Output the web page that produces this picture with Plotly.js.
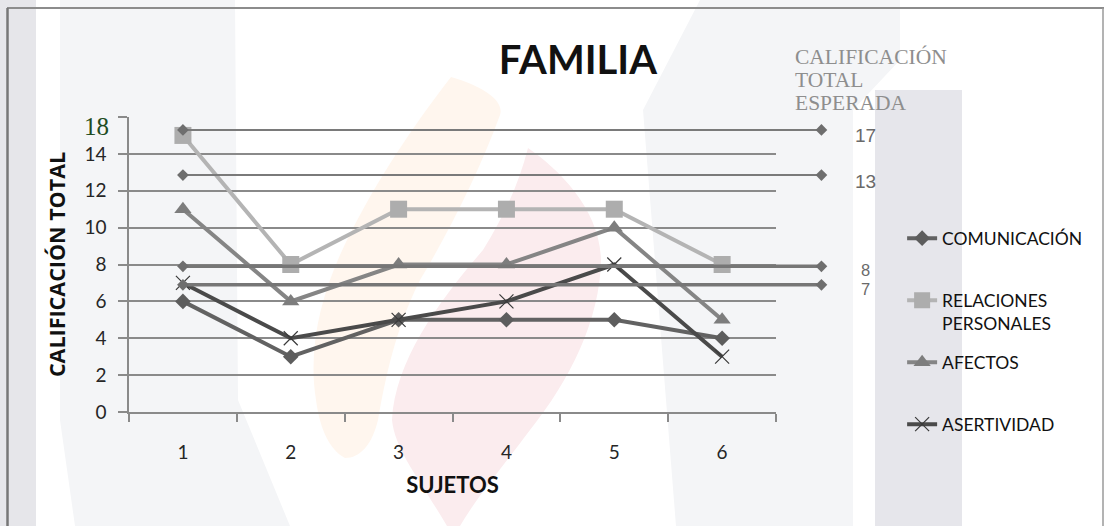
<!DOCTYPE html>
<html>
<head>
<meta charset="utf-8">
<script src="https://cdn.plot.ly/plotly-3.0.1.min.js"></script>
<style>
html, body { margin: 0; padding: 0; background: #fff; }
#familia { width: 1105px; height: 526px; }
</style>
</head>
<body>
<div id="familia"></div>
<script>
var sujetos = [1, 2, 3, 4, 5, 6];
var comunicacion = [6, 3, 5, 5, 5, 4];
var relaciones = [15, 8, 11, 11, 11, 8];
var afectos = [11, 6, 8, 8, 10, 5];
var asertividad = [7, 4, 5, 6, 8, 3];

// calificacion total esperada: nivel donde esta dibujada la linea y su etiqueta
var esperadaNivel = [15.3, 12.85, 7.9, 6.9];
var esperadaTexto = ['17', '13', '8', '7'];
var esperadaX = [1, 6.92];

var yTicks = [0, 2, 4, 6, 8, 10, 12, 14, 16];
var yTickText = ['0', '2', '4', '6', '8', '10', '12', '14', ''];

// marca de agua del fondo
var fondo = '<svg xmlns="http://www.w3.org/2000/svg" width="1105" height="526" viewBox="0 0 1105 526">' +
    '<rect width="1105" height="526" fill="#ffffff"/>' +
    '<rect x="0" y="0" width="36" height="526" fill="#e6e6ea"/>' +
    '<path d="M60 0 L235 0 L238 400 L290 526 L75 526 L60 420 Z" fill="#f4f5f7"/>' +
    '<path d="M700 0 L900 0 L900 60 L853 110 L853 526 L676 526 L643 110 Z" fill="#f4f5f7"/>' +
    '<rect x="875" y="90" width="87" height="436" fill="#e6e6eb"/>' +
    '<path d="M451 77 C480 85 505 100 500 115 C480 170 450 230 420 280 C395 330 385 380 378 420 C372 445 360 458 345 458 C330 450 320 430 316 400 C308 350 320 300 340 255 C370 190 410 130 451 77 Z" fill="#fff6ee"/>' +
    '<path d="M528 148 C560 170 600 210 601 260 C600 320 570 380 530 430 C500 470 475 500 460 526 L447 526 C420 480 395 450 392 420 C395 360 440 300 483 250 C505 215 520 180 528 148 Z" fill="#fbecee"/>' +
    '<line x1="7" y1="8" x2="1104" y2="8" stroke="#8c8c8c" stroke-width="2"/>' +
    '<line x1="7.5" y1="8" x2="7.5" y2="526" stroke="#777777" stroke-width="2.5"/>' +
    '<line x1="1103" y1="8" x2="1103" y2="526" stroke="#9a9a9a" stroke-width="1.5"/>' +
    '</svg>';

var ejeFuente = {family: 'Lato, sans-serif', size: 19, color: '#262626'};

function serie(y, nombre, color, marca) {
    return {
        x: sujetos,
        y: y,
        name: nombre,
        type: 'scatter',
        mode: 'lines+markers',
        line: {color: color, width: 4},
        marker: marca,
        cliponaxis: false,
        legendgroup: nombre
    };
}

var data = [
    serie(comunicacion, 'COMUNICACIÓN<br> ', '#626262', {symbol: 'diamond', size: 12, color: '#5d5d5d'}),
    serie(relaciones, 'RELACIONES<br>PERSONALES', '#b4b4b4', {symbol: 'square', size: 17, color: '#adadad'}),
    serie(afectos, 'AFECTOS<br> ', '#858585', {symbol: 'triangle-up', size: 15, color: '#7d7d7d'}),
    serie(asertividad, 'ASERTIVIDAD<br> ', '#4a4a4a', {symbol: 'x-thin', size: 14, line: {width: 1.2, color: '#3a3a3a'}})
];

var annotations = [
    {xref: 'paper', yref: 'y', x: -0.024, y: 16, yshift: -9, xanchor: 'right', showarrow: false,
     text: '18', font: {family: 'Liberation Serif, serif', size: 25, color: '#1f4d23'}}
];

var tituloEsperada = ['CALIFICACIÓN', 'TOTAL', 'ESPERADA'];
tituloEsperada.forEach(function (t, i) {
    annotations.push({
        xref: 'paper', yref: 'paper', x: 0.88, y: (412 - 57 - 23 * i) / 295,
        xanchor: 'left', yanchor: 'middle', showarrow: false, text: t,
        font: {family: 'Liberation Serif, serif', size: 21.5, color: '#8e8e8e'}
    });
});

esperadaNivel.forEach(function (v, i) {
    data.push({
        x: esperadaX,
        y: [v, v],
        xaxis: 'x2',
        yaxis: 'y2',
        type: 'scatter',
        mode: 'lines+markers',
        showlegend: false,
        hoverinfo: 'skip',
        cliponaxis: false,
        line: {color: i < 2 ? '#7a7a7a' : '#767676', width: i < 2 ? 2 : 3.5},
        marker: {symbol: 'diamond', size: 9, color: '#6e6e6e'}
    });
    annotations.push({
        xref: 'x2', yref: 'y2', x: 7.33, y: v, yshift: i < 2 ? -6 : -4, showarrow: false,
        text: esperadaTexto[i],
        font: {family: 'Liberation Sans, sans-serif', size: i < 2 ? 19 : 16.5, color: '#6a6a6a'}
    });
});

var layout = {
    width: 1105,
    height: 526,
    margin: {l: 129, r: 221, t: 117, b: 114},
    paper_bgcolor: '#ffffff',
    plot_bgcolor: 'rgba(0,0,0,0)',
    title: {
        text: '<b>FAMILIA</b>',
        font: {family: 'Lato, sans-serif', size: 40, color: '#111111'},
        xref: 'container', yref: 'container',
        x: 0.523, xanchor: 'center', y: 0.886, yanchor: 'middle'
    },
    xaxis: {
        domain: [0, 0.857],
        range: [0.5, 6.5],
        tickvals: sujetos,
        ticks: '',
        tickfont: ejeFuente,
        ticklabelstandoff: 22,
        showgrid: false,
        zeroline: false,
        showline: true,
        linecolor: '#8a8a8a',
        linewidth: 1.5,
        minor: {tick0: 0.5, dtick: 1, ticks: 'outside', ticklen: 8, tickcolor: '#8a8a8a', tickwidth: 1.5, showgrid: false},
        title: {text: '<b>SUJETOS</b>', font: {family: 'Lato, sans-serif', size: 22, color: '#111111'}, standoff: 16}
    },
    yaxis: {
        range: [0, 16],
        tickvals: yTicks,
        ticktext: yTickText,
        ticks: 'outside',
        ticklen: 9,
        tickcolor: '#8a8a8a',
        tickwidth: 1.5,
        tickfont: ejeFuente,
        ticklabelstandoff: 8,
        showgrid: true,
        gridcolor: '#8a8a8a',
        gridwidth: 1.5,
        zeroline: false,
        showline: true,
        linecolor: '#8a8a8a',
        linewidth: 1.5,
        title: {text: '<b>CALIFICACIÓN TOTAL</b>', font: {family: 'Open Sans, sans-serif', size: 21.5, color: '#111111'}, standoff: 13}
    },
    xaxis2: {domain: [0, 1], range: [0.5, 7.5], anchor: 'y2', visible: false},
    yaxis2: {domain: [0, 1], range: [0, 16], anchor: 'x2', visible: false},
    showlegend: true,
    legend: {
        x: 1.024, xanchor: 'left',
        y: 0.65, yanchor: 'top',
        valign: 'top',
        tracegroupgap: 13.5,
        bgcolor: 'rgba(0,0,0,0)',
        font: {family: 'Lato, sans-serif', size: 17.5, color: '#111111'}
    },
    annotations: annotations,
    images: [{
        source: 'data:image/svg+xml;charset=utf-8,' + encodeURIComponent(fondo),
        xref: 'paper', yref: 'paper',
        x: -129 / 755, y: 1 + 117 / 295,
        sizex: 1105 / 755, sizey: 526 / 295,
        xanchor: 'left', yanchor: 'top',
        sizing: 'stretch', layer: 'below'
    }]
};

Plotly.newPlot('familia', data, layout, {displayModeBar: false, responsive: false});
</script>
</body>
</html>
